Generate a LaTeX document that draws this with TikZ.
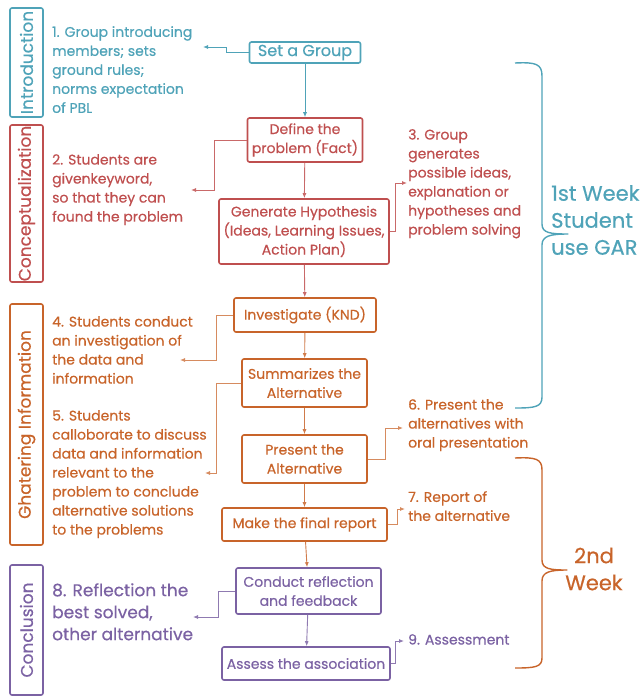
\documentclass[tikz,border=0pt]{standalone}
\usepackage{fontspec}
\setmainfont{Poppins}[FakeBold=0.5]
\usetikzlibrary{arrows.meta,positioning}

\definecolor{introC}{HTML}{4FA3B8}
\definecolor{conceptC}{HTML}{BF4F4F}
\definecolor{gatherC}{HTML}{C8642A}
\definecolor{concluC}{HTML}{7B62A3}

\begin{document}
\begin{tikzpicture}[
        x=1pt, y=-1pt,
        font=\fontsize{14}{19}\selectfont,
        >=Latex,
        phase/.style={draw, rounded corners=2pt, line width=1.6pt, rotate=90, minimum height=33pt, inner sep=0pt, font=\fontsize{17}{20}\selectfont},
        stage/.style={draw, rounded corners=2pt, line width=1.6pt, align=center, inner sep=2pt},
        note/.style={anchor=north west, align=left, inner sep=0pt, font=\fontsize{14}{19}\selectfont},
        week/.style={align=left, inner sep=0pt, font=\fontsize{21}{27}\selectfont},
        brace/.style={line width=1.4pt, line join=round},
        link/.style={line width=0.9pt, -{Latex[length=5pt,width=4pt]}}
    ]
        \useasboundingbox (0,0) rectangle (641,697);

        % phases on the left
        \node[phase, introC, minimum width=109pt] (intro) at (26.5,62.5) {Introduction};
        \node[phase, conceptC, minimum width=157pt] (concept) at (26.5,203.5) {Conceptualization};
        \node[phase, gatherC, minimum width=241pt] (gather) at (26.5,424.5) {Ghatering Information};
        \node[phase, concluC, minimum width=130pt] (conclu) at (26.5,630) {Conclusion};

        % main steps
        \node[stage, introC, minimum width=111pt, minimum height=21pt, font=\fontsize{16}{19}\selectfont] (group) at (305,52.5) {Set a Group};
        \node[stage, conceptC, minimum width=115pt, minimum height=44pt] (define) at (305,140) {Define the\\problem (Fact)};
        \node[stage, conceptC, minimum width=170pt, minimum height=65pt] (hypo) at (304,231.5) {Generate Hypothesis\\(Ideas, Learning Issues,\\Action Plan)};
        \node[stage, gatherC, minimum width=142pt, minimum height=34pt] (invest) at (305,315) {Investigate (KND)};
        \node[stage, gatherC, minimum width=125pt, minimum height=48pt] (summ) at (304.5,383) {Summarizes the\\Alternative};
        \node[stage, gatherC, minimum width=125pt, minimum height=48pt] (present) at (304.5,459) {Present the\\Alternative};
        \node[stage, gatherC, minimum width=165pt, minimum height=33pt] (report) at (304.5,524.5) {Make the final report};
        \node[stage, concluC, minimum width=145pt, minimum height=46pt] (reflect) at (308.5,591) {Conduct reflection\\and feedback};
        \node[stage, concluC, minimum width=168pt, minimum height=33pt] (assess) at (306,663.5) {Assess the association};

        % notes
        \node[note, introC] (n1) at (52,26) {1. Group introducing\\members; sets\\ground rules;\\norms expectation\\of PBL};
        \node[note, conceptC] (n2) at (52,154) {2. Students are\\givenkeyword,\\so that they can\\found the problem};
        \node[note, conceptC] (n3) at (408,129) {3. Group\\generates\\possible ideas,\\explanation or\\hypotheses and\\problem solving};
        \node[note, gatherC] (n4) at (52,316) {4. Students conduct\\an investigation of\\the data and\\information};
        \node[note, gatherC] (n5) at (52,410) {5. Students\\calloborate to discuss\\data and information\\relevant to the\\problem to conclude\\alternative solutions\\to the problems};
        \node[note, gatherC] (n6) at (408,399) {6. Present the\\alternatives with\\oral presentation};
        \node[note, gatherC] (n7) at (408,491) {7. Report of\\the alternative};
        \node[note, concluC, font=\fontsize{17}{22}\selectfont] (n8) at (52,583) {8. Reflection the\\best solved,\\other alternative};
        \node[note, concluC] (n9) at (408,634) {9. Assessment};

        % weeks
        \node[week, introC, anchor=north west] (week1) at (551,185) {1st Week\\Student\\use GAR};
        \node[week, gatherC, align=center] (week2) at (594,569) {2nd\\Week};

        \draw[brace, introC] (515,63) .. controls (536,62) and (542,64) .. (542,76) -- (542,224) .. controls (542,233) and (550,234) .. (568,234) .. controls (550,234) and (542,236) .. (542,245) -- (542,397) .. controls (542,407) and (535,408) .. (515,408);
        \draw[brace, gatherC] (515,458) .. controls (536,457) and (542,459) .. (542,470) -- (542,560) .. controls (542,569) and (550,570) .. (567,570) .. controls (550,570) and (542,572) .. (542,581) -- (542,658) .. controls (542,667) and (535,668) .. (515,668);

        % arrow ends at the notes
        \coordinate (a1) at (203,47);
        \coordinate (a2) at (191,190);
        \coordinate (a3) at (407,183);
        \coordinate (a4) at (180,360);
        \coordinate (a5) at (205,473);
        \coordinate (a6) at (403,428);
        \coordinate (a7) at (405,509);
        \coordinate (a8) at (193,617);
        \coordinate (a9) at (404,641);

        % down the chain
        \draw[link, introC] (group) -- (define);
        \draw[link, conceptC!85] (define) -- (hypo);
        \draw[link, conceptC!85] (hypo) -- (invest);
        \draw[link, gatherC!85] (invest) -- (summ);
        \draw[link, gatherC!85] (summ) -- (present);
        \draw[link, gatherC!85] (present) -- (report);
        \draw[link, gatherC!85] (report) -- (reflect);
        \draw[link, concluC!85] (reflect) -- (assess);

        % out to the notes
        \draw[link, introC] (group.west) -- ++(-22,0) |- (a1);
        \draw[link, conceptC!85] (define.west) -- ++(-32,0) |- (a2);
        \draw[link, conceptC!85] (hypo.east) -- ++(6,0) |- (a3);
        \draw[link, gatherC!75] (invest.west) -- ++(-17,0) |- (a4);
        \draw[link, gatherC!75] (summ.west) -- ++(-25,0) |- (a5);
        \draw[link, gatherC!75] (present.east) -- ++(18,0) |- (a6);
        \draw[link, gatherC!75] (report.east) -- ++(10,0) |- (a7);
        \draw[link, concluC!85] (reflect.west) -- ++(-17,0) |- (a8);
        \draw[link, concluC!85] (assess.east) -- ++(5,0) |- (a9);
    \end{tikzpicture}
\end{document}
